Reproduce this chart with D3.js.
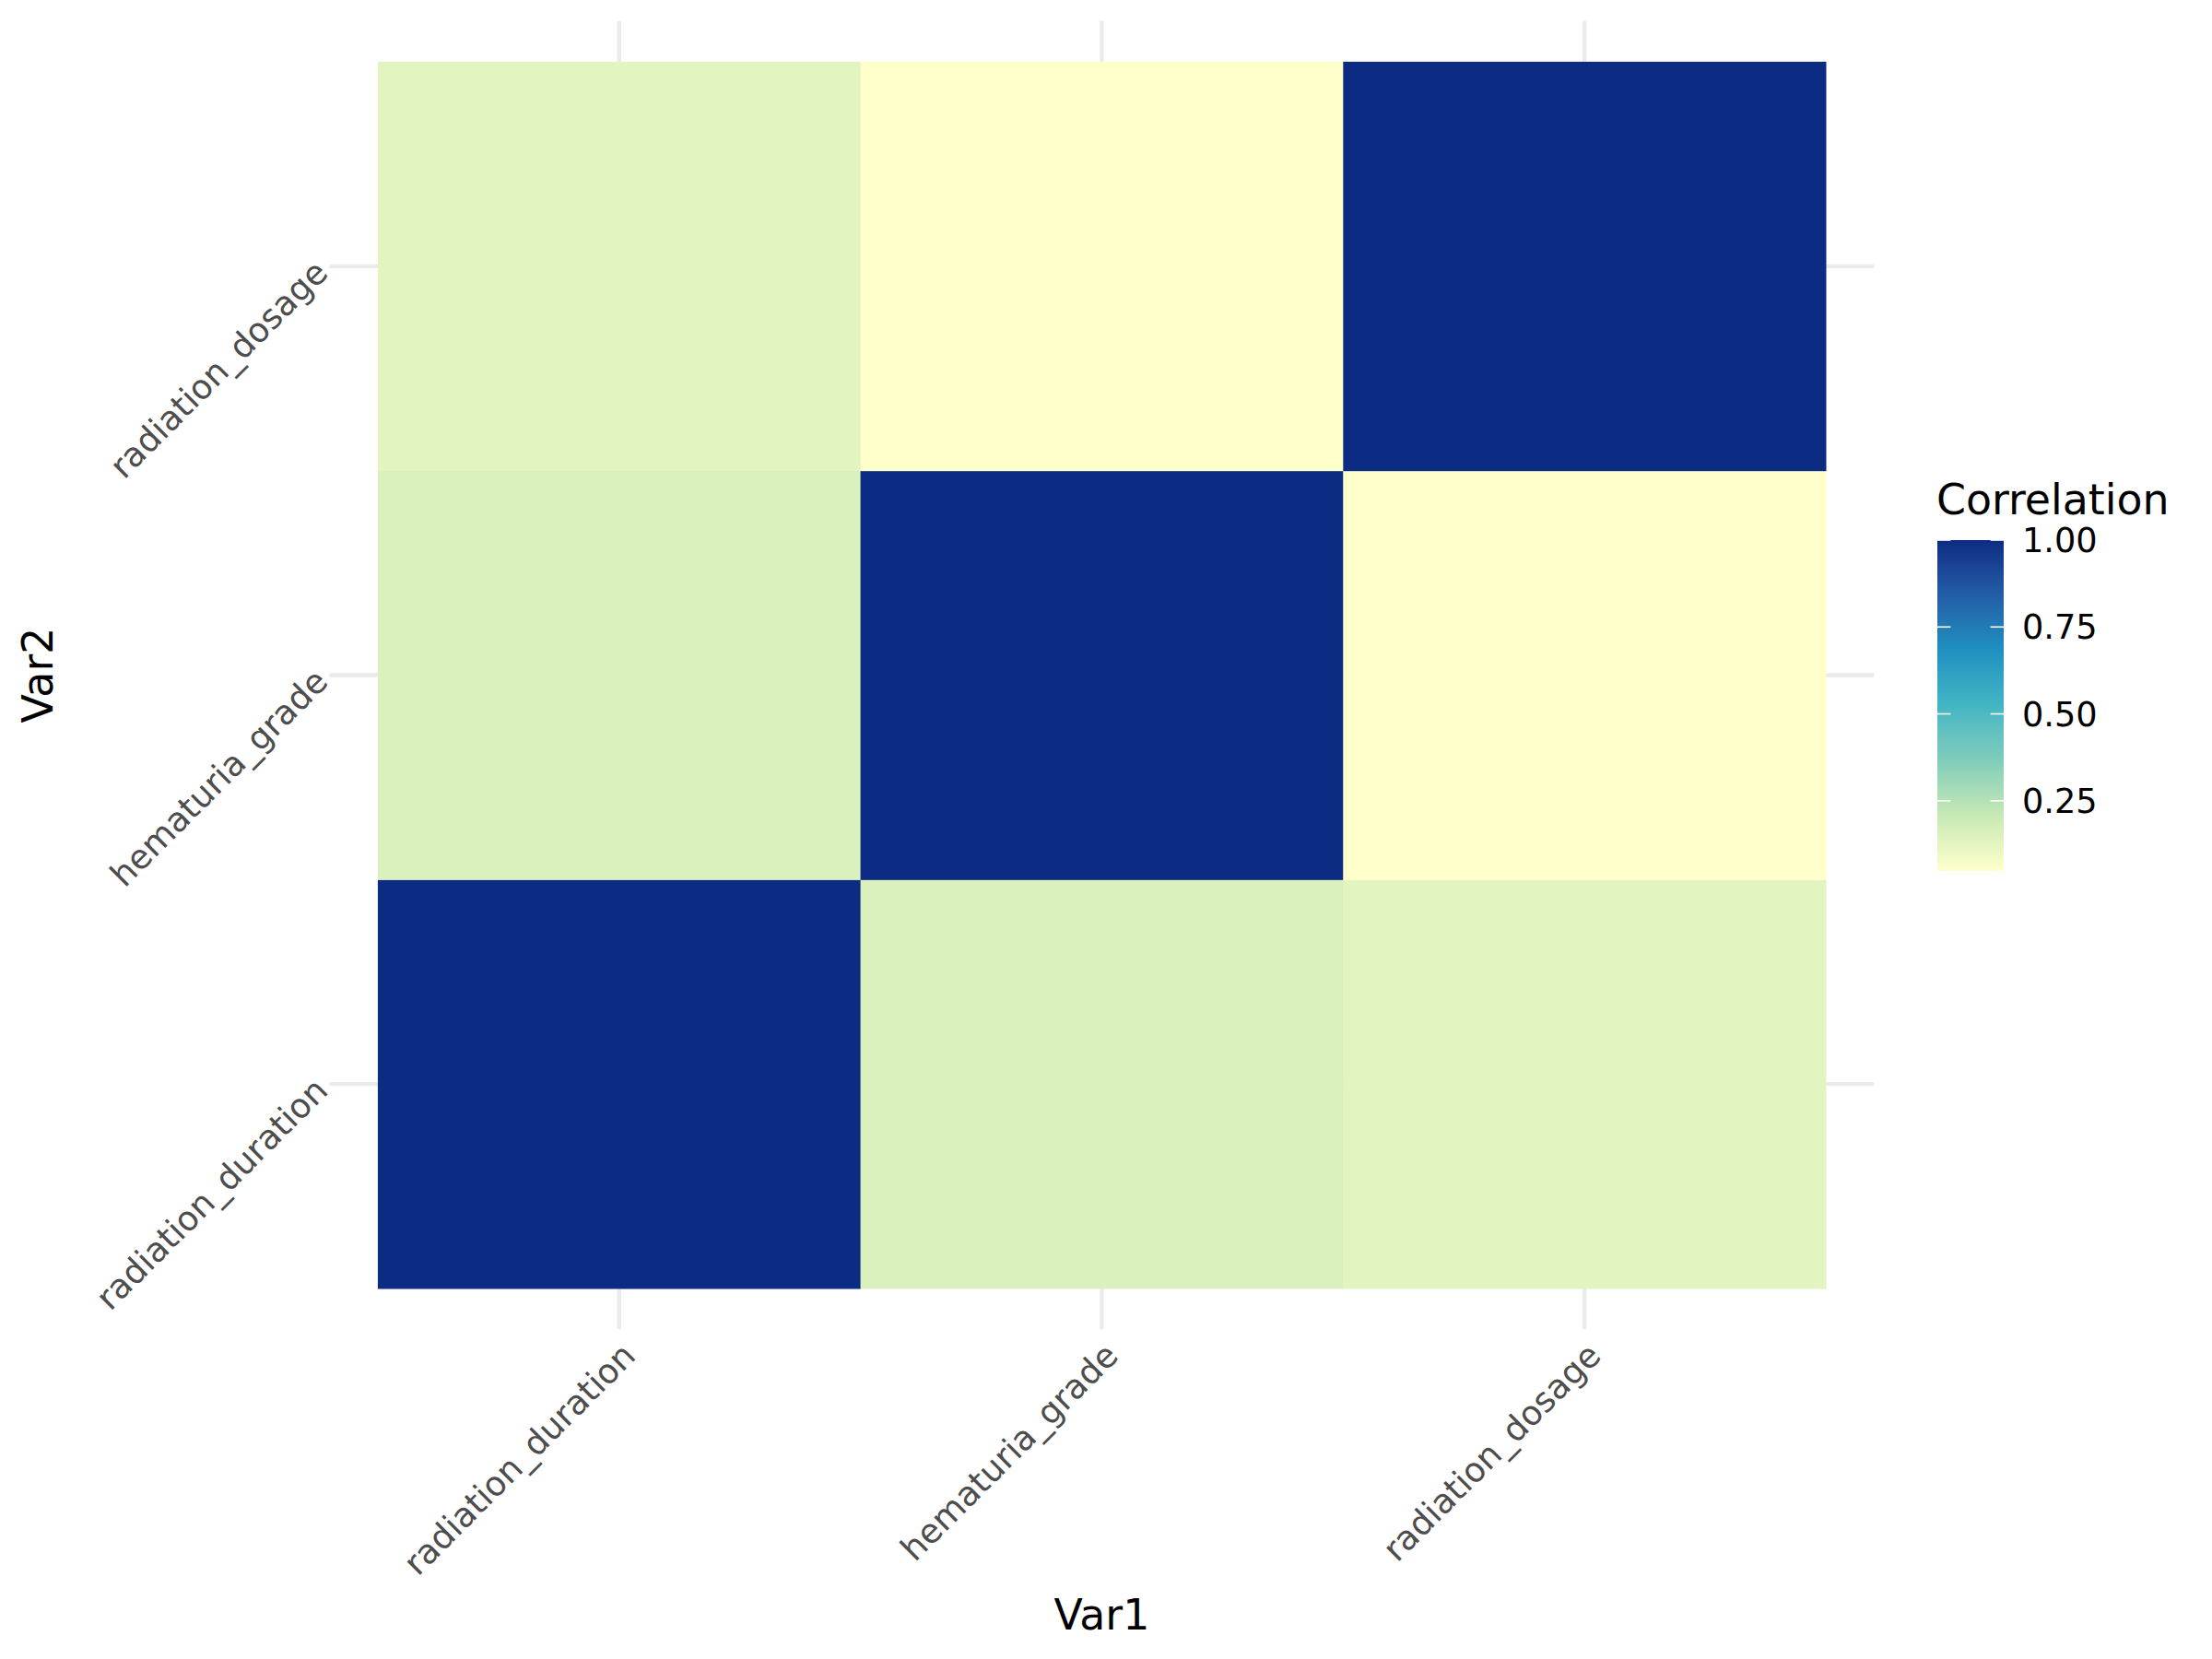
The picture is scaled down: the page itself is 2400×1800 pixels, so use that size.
<!DOCTYPE html>
<html>
<head>
<meta charset="utf-8">
<script src="https://cdn.jsdelivr.net/npm/d3@7"></script>
<style>
  html, body { margin: 0; padding: 0; background: #ffffff; }
  svg { display: block; }
  text { font-family: "DejaVu Sans", sans-serif; }
</style>
</head>
<body>
<script>
// ---- data ----
const variables = ["radiation_duration", "hematuria_grade", "radiation_dosage"];
// correlation of each variable (Var1) with radiation_duration, hematuria_grade, radiation_dosage (Var2)
const corrRadiationDuration = [1.00, 0.15, 0.13];
const corrHematuriaGrade    = [0.15, 1.00, 0.048];
const corrRadiationDosage   = [0.13, 0.048, 1.00];
const legendTicks = [0.25, 0.50, 0.75, 1.00];
const paletteYlGnBu = ["#ffffcc", "#c7e9b4", "#7fcdbb", "#41b6c4", "#1d91c0", "#225ea8", "#0c2c84"];

const corrRows = [corrRadiationDuration, corrHematuriaGrade, corrRadiationDosage];
const cells = [];
variables.forEach((v1, i) => {
  variables.forEach((v2, j) => {
    cells.push({ var1: v1, var2: v2, value: corrRows[i][j] });
  });
});

// ---- layout ----
const W = 2400, H = 1800;
const svg = d3.select("body").append("svg").attr("width", W).attr("height", H);
svg.append("rect").attr("width", W).attr("height", H).attr("fill", "#ffffff");

const x = d3.scaleBand().domain(variables).range([409.9, 1981]).padding(0);
const y = d3.scaleBand().domain(variables.slice().reverse()).range([67, 1398]).padding(0);
const bw = x.bandwidth(), bh = y.bandwidth();
const panel = { x0: 409.9 - 0.1 * bw, x1: 1981 + 0.1 * bw, y0: 67 - 0.1 * bh, y1: 1398 + 0.1 * bh };

const vals = cells.map(d => d.value);
const vmin = d3.min(vals), vmax = d3.max(vals);
const interp = d3.piecewise(d3.interpolateLab, paletteYlGnBu);
const color = v => interp((v - vmin) / (vmax - vmin));

// grid lines
const grid = svg.append("g");
variables.forEach(v => {
  grid.append("line")
    .attr("x1", x(v) + bw / 2).attr("x2", x(v) + bw / 2)
    .attr("y1", panel.y0).attr("y2", panel.y1)
    .attr("stroke", "#ebebeb").attr("stroke-width", 4.4);
  grid.append("line")
    .attr("y1", y(v) + bh / 2).attr("y2", y(v) + bh / 2)
    .attr("x1", panel.x0).attr("x2", panel.x1)
    .attr("stroke", "#ebebeb").attr("stroke-width", 4.4);
});

// tiles
svg.append("g").selectAll("rect").data(cells).join("rect")
  .attr("x", d => x(d.var1))
  .attr("y", d => y(d.var2))
  .attr("width", bw + 0.5)
  .attr("height", bh + 0.5)
  .attr("fill", d => color(d.value));

// x axis labels
const axisFont = 36.7;
svg.append("g").selectAll("text").data(variables).join("text")
  .attr("transform", d => `translate(${x(d) + bw / 2},${panel.y1 + 11}) rotate(-45)`)
  .attr("text-anchor", "end")
  .attr("dy", "0.76em")
  .attr("font-size", axisFont)
  .attr("fill", "#4d4d4d")
  .text(d => d);

// y axis labels
svg.append("g").selectAll("text").data(variables).join("text")
  .attr("transform", d => `translate(${panel.x0 - 9},${y(d) + bh / 2}) rotate(-45)`)
  .attr("text-anchor", "end")
  .attr("dy", "0.35em")
  .attr("font-size", axisFont)
  .attr("fill", "#4d4d4d")
  .text(d => d);

// axis titles
svg.append("text")
  .attr("x", (panel.x0 + panel.x1) / 2).attr("y", 1768)
  .attr("text-anchor", "middle").attr("font-size", 45.8).attr("fill", "#000")
  .text("Var1");
svg.append("text")
  .attr("transform", `translate(57,${(panel.y0 + panel.y1) / 2}) rotate(-90)`)
  .attr("text-anchor", "middle").attr("font-size", 45.8).attr("fill", "#000")
  .text("Var2");

// legend
const lg = { x: 2102, w: 72, top: 586, bottom: 945 };
const ly = d3.scaleLinear().domain([vmin, vmax]).range([lg.bottom, lg.top]);
const defs = svg.append("defs");
const grad = defs.append("linearGradient").attr("id", "corrGrad")
  .attr("x1", 0).attr("y1", 1).attr("x2", 0).attr("y2", 0);
d3.range(0, 1.0001, 0.02).forEach(t => {
  grad.append("stop").attr("offset", t).attr("stop-color", interp(t));
});
svg.append("rect")
  .attr("x", lg.x).attr("y", lg.top).attr("width", lg.w).attr("height", lg.bottom - lg.top)
  .attr("fill", "url(#corrGrad)");
const tickLen = lg.w / 5;
legendTicks.forEach(t => {
  svg.append("line").attr("x1", lg.x).attr("x2", lg.x + tickLen)
    .attr("y1", ly(t)).attr("y2", ly(t)).attr("stroke", "#ffffff").attr("stroke-width", 1.6);
  svg.append("line").attr("x1", lg.x + lg.w - tickLen).attr("x2", lg.x + lg.w)
    .attr("y1", ly(t)).attr("y2", ly(t)).attr("stroke", "#ffffff").attr("stroke-width", 1.6);
});
svg.append("g").selectAll("text").data(legendTicks).join("text")
  .attr("x", 2194).attr("y", d => ly(d)).attr("dy", "0.36em")
  .attr("font-size", 36.7).attr("fill", "#000")
  .text(d => d3.format(".2f")(d));
svg.append("text").attr("x", 2101).attr("y", 558)
  .attr("font-size", 45.8).attr("fill", "#000").text("Correlation");
</script>
</body>
</html>
